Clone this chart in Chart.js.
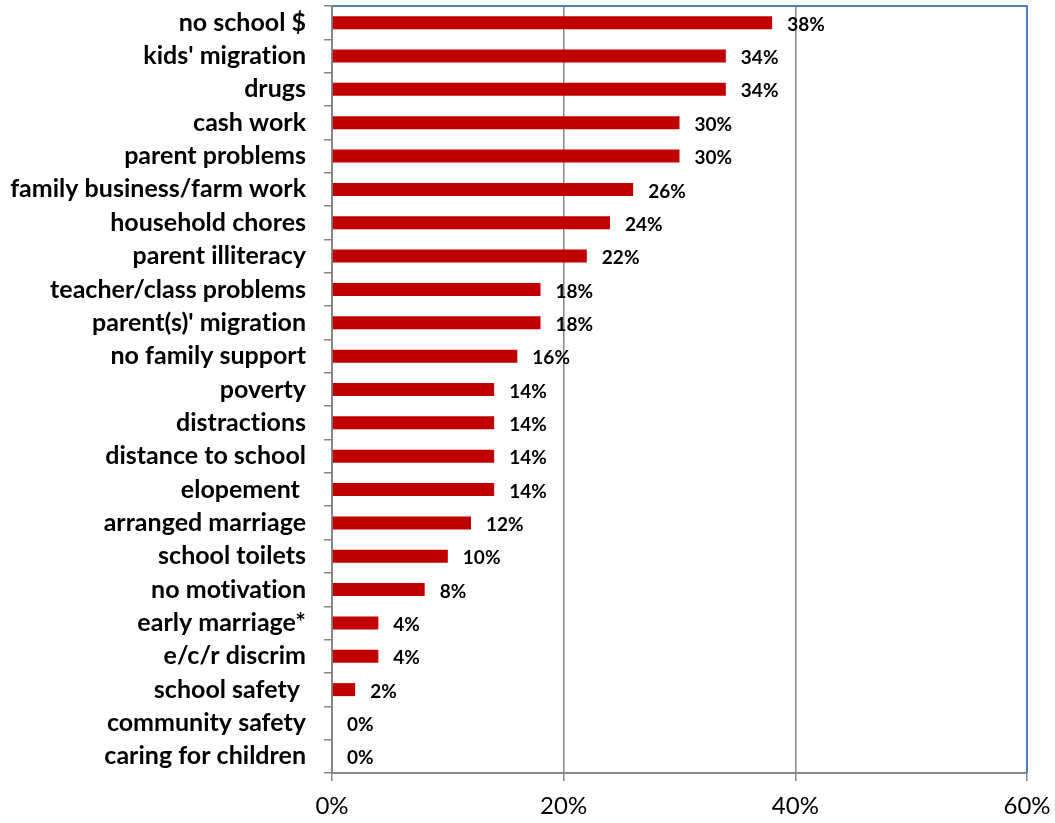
<!DOCTYPE html>
<html>
<head>
<meta charset="utf-8">
<script src="https://cdn.jsdelivr.net/npm/chart.js@4"></script>
<style>
  html, body { margin: 0; padding: 0; background: #fff; }
  #wrap { width: 1055px; height: 823px; }
</style>
</head>
<body>
<div id="wrap"><canvas id="c" width="1055" height="823"></canvas></div>
<script>
// Reasons given for leaving school, share of respondents (%)
const reasons = [
  "no school $", "kids' migration", "drugs", "cash work", "parent problems",
  "family business/farm work", "household chores", "parent illiteracy",
  "teacher/class problems", "parent(s)' migration", "no family support",
  "poverty", "distractions", "distance to school", "elopement ",
  "arranged marriage", "school toilets", "no motivation", "early marriage*",
  "e/c/r discrim", "school safety ", "community safety", "caring for children"
];
const shares = [38, 34, 34, 30, 30, 26, 24, 22, 18, 18, 16, 14, 14, 14, 14, 12, 10, 8, 4, 4, 2, 0, 0];
const axisTicks = [0, 20, 40, 60];

const labelFont = "Lato, 'Liberation Sans', sans-serif";

// A tiny letter spacing keeps glyphs such as "ti" from merging into ligatures
const noLigatures = {
  id: 'noLigatures',
  beforeDraw(chart) {
    if ('letterSpacing' in chart.ctx) chart.ctx.letterSpacing = '0.01px';
  }
};

// Value labels printed to the right of each bar end
const valueLabels = {
  id: 'valueLabels',
  afterDatasetsDraw(chart) {
    const ctx = chart.ctx;
    const meta = chart.getDatasetMeta(0);
    ctx.save();
    ctx.font = "bold 19px " + labelFont;
    ctx.fillStyle = '#000';
    ctx.textAlign = 'left';
    ctx.textBaseline = 'middle';
    meta.data.forEach((bar, i) => {
      ctx.fillText(shares[i] + '%', bar.x + 15, bar.y + 2);
    });
    ctx.restore();
  }
};

// Plot area frame on the top and right edges
const plotFrame = {
  id: 'plotFrame',
  afterDraw(chart) {
    const a = chart.chartArea;
    const ctx = chart.ctx;
    ctx.save();
    ctx.strokeStyle = '#4F81BD';
    ctx.lineWidth = 2;
    ctx.beginPath();
    ctx.moveTo(a.left, a.top);
    ctx.lineTo(a.right, a.top);
    ctx.lineTo(a.right, a.bottom);
    ctx.stroke();
    ctx.restore();
  }
};

new Chart(document.getElementById('c'), {
  type: 'bar',
  data: {
    labels: reasons,
    datasets: [{
      data: shares,
      backgroundColor: '#C00000',
      borderWidth: 0,
      barPercentage: 0.78,
      categoryPercentage: 0.5
    }]
  },
  options: {
    indexAxis: 'y',
    responsive: false,
    animation: false,
    layout: { padding: { top: 6, right: 28, left: 0, bottom: 0 } },
    plugins: {
      legend: { display: false },
      tooltip: { enabled: false }
    },
    scales: {
      x: {
        min: 0,
        max: 60,
        afterBuildTicks(scale) {
          scale.ticks = axisTicks.map(v => ({ value: v }));
        },
        afterFit(scale) {
          scale.height = 50;
          scale.paddingLeft = 0;
          scale.paddingRight = 0;
        },
        ticks: {
          callback: v => v + '%',
          font: { family: labelFont, size: 24 },
          color: '#000',
          padding: 11,
          maxRotation: 0
        },
        grid: {
          color: '#868686',
          lineWidth: 1.5,
          tickLength: 8
        },
        border: { color: '#868686', width: 2 }
      },
      y: {
        afterFit(scale) {
          scale.width = 332;
          scale.paddingTop = 0;
          scale.paddingBottom = 0;
        },
        ticks: {
          font: { family: labelFont, size: 25, weight: 'bold' },
          color: '#000',
          padding: 18,
          autoSkip: false
        },
        grid: {
          drawOnChartArea: false,
          offset: true,
          color: '#868686',
          lineWidth: 1.5,
          tickLength: 8
        },
        border: { color: '#868686', width: 2 }
      }
    }
  },
  plugins: [noLigatures, valueLabels, plotFrame]
});
</script>
</body>
</html>
